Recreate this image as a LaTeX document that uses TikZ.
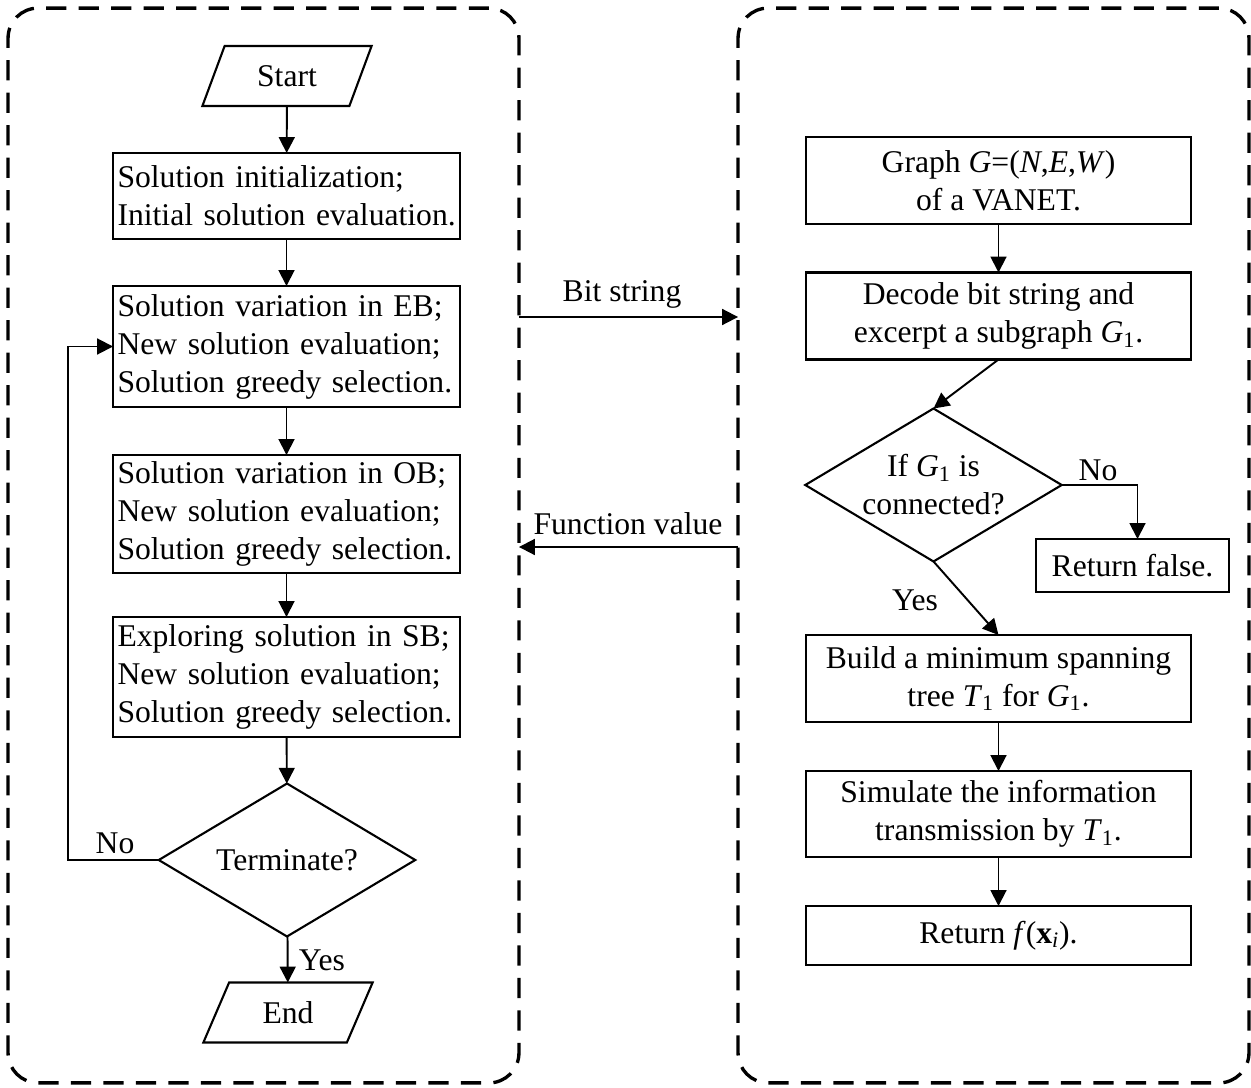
\documentclass[tikz,border=0pt]{standalone}
\usepackage{fontspec}
\setmainfont{Liberation Serif}
\usetikzlibrary{arrows.meta,shapes.geometric}
\hyphenpenalty=10000
\exhyphenpenalty=10000
\begin{document}
\begin{tikzpicture}[x=0.02cm,y=-0.02cm,
  font=\fontsize{18}{21.6}\selectfont,
  box/.style={draw,line width=1.2pt,inner sep=0pt,outer sep=0pt},
  lbox/.style={box,align=left,text width=6.76cm,inner xsep=0.09cm,minimum height=#1},
  rbox/.style={box,align=center,minimum width=7.7cm,minimum height=#1},
  dia/.style={draw,diamond,line width=1.2pt,inner sep=0pt,outer sep=0pt,aspect=1.67,
    minimum width=5.13cm,minimum height=3.06cm,align=center},
  para/.style={draw,trapezium,trapezium left angle=63.4,trapezium right angle=116.6,
    trapezium stretches=true,minimum width=3.4cm,minimum height=1.2cm,inner sep=0pt,
    outer sep=0pt,line width=1.2pt},
  panel/.style={draw,dash pattern=on 11.5pt off 7pt,line width=1.9pt,rounded corners=0.6cm,
    minimum width=10.22cm,minimum height=21.5cm,inner sep=0pt,outer sep=0pt},
  arr/.style={line width=1.1pt,-{Triangle[length=9pt,width=9pt]}},
  lab/.style={inner sep=0pt}
]
\useasboundingbox (0,0) rectangle (1251,1088);

% panels
\node[panel] (lp) at (263.5,545.5) {};
\node[panel] (rp) at (993.5,545.5) {};

% left flow
\node[para] (start) at (287,76) {Start};
\node[lbox=1.72cm] (b1) at (286.5,196) {Solution initialization;\\\mbox{Initial solution evaluation.}};
\node[lbox=2.42cm] (b2) at (286.5,346.5) {Solution variation in EB;\\New solution evaluation;\\Solution greedy selection.};
\node[lbox=2.36cm] (b3) at (286.5,514) {Solution variation in OB;\\New solution evaluation;\\Solution greedy selection.};
\node[lbox=2.4cm] (b4) at (286.5,677) {Exploring solution in SB;\\New solution evaluation;\\Solution greedy selection.};
\node[dia] (term) at (287,860) {Terminate?};
\node[para] (end) at (288,1012.5) {End};
\coordinate (noL) at (68,0);

\draw[arr] (start) -- (b1);
\draw[arr] (b1) -- (b2);
\draw[arr] (b2) -- (b3);
\draw[arr] (b3) -- (b4);
\draw[arr] (b4) -- (term);
\draw[arr] (term) -- (end);
\draw[arr] (term.west) -- (noL |- term.west) |- (b2.west);
\node[lab] (no1) at (115,843) {No};
\node[lab] (yes1) at (322,960) {Yes};

% middle
\coordinate (bsy) at (0,317);
\coordinate (fvy) at (0,547);
\draw[arr] (lp.east |- bsy) -- (rp.west |- bsy);
\draw[arr] (rp.west |- fvy) -- (lp.east |- fvy);
\node[lab] (bs) at (622,294) {Bit string};
\node[lab] (fv) at (628,524) {Function value};

% right flow
\node[rbox=1.74cm] (g) at (998.5,180.5) {Graph \textit{G}=(\textit{N},\textit{E},\textit{W})\\of a VANET.};
\node[rbox=1.74cm] (dec) at (998.5,316) {Decode bit string and\\excerpt a subgraph \textit{G}\textsubscript{1}.};
\node[dia] (cond) at (933.5,485) {If \textit{G}\textsubscript{1} is\\connected?};
\node[box,minimum width=3.86cm,minimum height=1.06cm] (rf) at (1132.5,565.5) {Return false.};
\node[rbox=1.74cm] (build) at (998.5,678.5) {Build a minimum spanning\\tree \textit{T}\textsubscript{1} for \textit{G}\textsubscript{1}.};
\node[rbox=1.72cm] (sim) at (998.5,814) {Simulate the information\\transmission by \textit{T}\textsubscript{1}.};
\node[rbox=1.18cm] (ret) at (998.5,935.5) {Return \textit{f}(\textbf{x}\textsubscript{\textit{i}}).};

\draw[arr] (g) -- (dec);
\draw[arr] (dec.south) -- (cond.north);
\draw[arr] (cond.east) -| ([xshift=0.1cm]rf.north);
\draw[arr] (cond.south) -- (build.north);
\draw[arr] (build) -- (sim);
\draw[arr] (sim) -- (ret);
\node[lab] (no2) at (1098,470) {No};
\node[lab] (yes2) at (915,600) {Yes};
\end{tikzpicture}
\end{document}
